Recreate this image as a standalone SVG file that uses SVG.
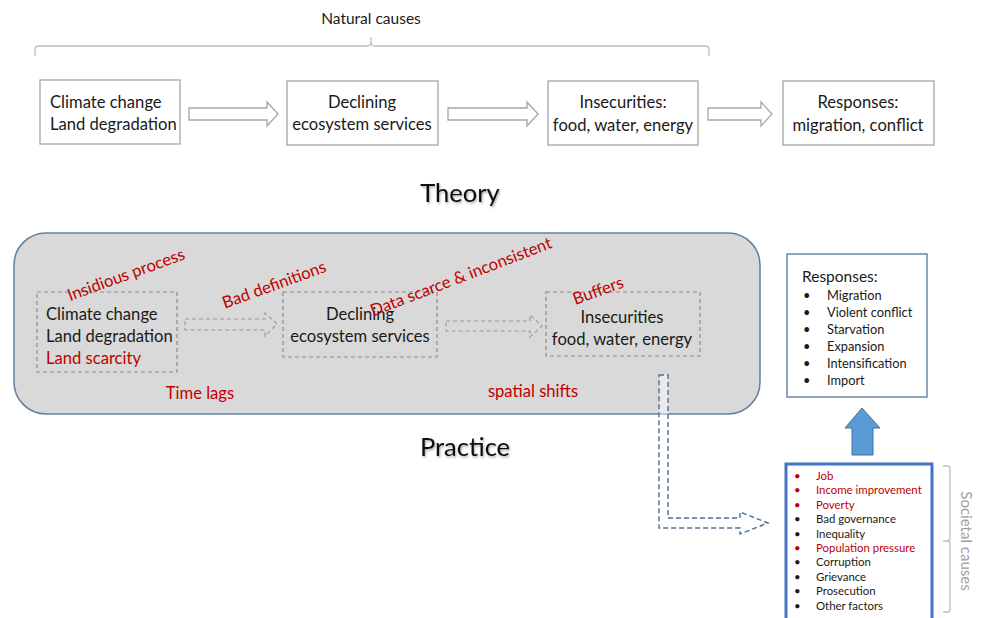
<svg xmlns="http://www.w3.org/2000/svg" width="982" height="618" viewBox="0 0 982 618">
<defs>
<style>
text{font-family:Lato,"Liberation Sans",sans-serif;fill:#1a1a1a}
.t{font-size:16.6px}
.c{text-anchor:middle}
.red{fill:#c00000}
.rl{font-size:16.6px;fill:#c00000;text-anchor:middle}
.box{fill:#fff;stroke:#a6a6a6;stroke-width:1.3}
.dbox{fill:none;stroke:#8c8c8c;stroke-width:1.2;stroke-dasharray:4 3}
.harrow{fill:#fff;stroke:#a6a6a6;stroke-width:1.3}
.darrow{fill:none;stroke:#9a9a9a;stroke-width:1.2;stroke-dasharray:4 3}
.brace{fill:none;stroke:#bfbfbf;stroke-width:1.3}
.sm{font-size:12.8px}
.xs{font-size:11.4px}
.head{font-size:25.5px;fill:#111}
</style>
<filter id="sh" x="-10%" y="-10%" width="130%" height="140%">
<feDropShadow dx="1" dy="1.5" stdDeviation="0.8" flood-color="#000" flood-opacity="0.35"/>
</filter>
</defs>

<g id="natural-causes">
<text x="371" y="24" class="c" style="font-size:15.5px">Natural causes</text>
<path class="brace" d="M35,56 L35,50 Q35,46 39,46 L367,46 Q371,46 371,42 L371,37 M371,42 Q371,46 375,46 L705,46 Q709,46 709,50 L709,56"/>
</g>

<g id="theory-label"><text x="460" y="202" class="c head" filter="url(#sh)">Theory</text></g>
<g id="practice-label"><text x="465" y="456" class="c head" filter="url(#sh)">Practice</text></g>

<g id="t-climate">
<rect class="box" x="40" y="80" width="140" height="64"/>
<text x="50" y="108" class="t">Climate change</text>
<text x="50" y="130" class="t">Land degradation</text>
</g>
<g id="t-declining">
<rect class="box" x="287" y="81" width="151" height="64"/>
<text x="362" y="108" class="t c">Declining</text>
<text x="362" y="130" class="t c">ecosystem services</text>
</g>
<g id="t-insecurities">
<rect class="box" x="548" y="81" width="150" height="64"/>
<text x="623" y="108" class="t c">Insecurities:</text>
<text x="623" y="131" class="t c">food, water, energy</text>
</g>
<g id="t-responses">
<rect class="box" x="783" y="81" width="151" height="64"/>
<text x="858" y="108" class="t c">Responses:</text>
<text x="858" y="131" class="t c">migration, conflict</text>
</g>

<g id="practice-area">
<rect x="14" y="233" width="746" height="181" rx="32" ry="32" fill="#d9d9d9" stroke="#6080a0" stroke-width="1.5"/>
</g>

<g id="connectors">
<path class="harrow" d="M189,108 L267,108 L267,102 L278,114 L267,126 L267,120 L189,120 Z"/>
<path class="harrow" d="M448,108 L527,108 L527,102 L538,114 L527,126 L527,120 L448,120 Z"/>
<path class="harrow" d="M708,108 L761,108 L761,102 L772,114 L761,126 L761,120 L708,120 Z"/>
<path class="darrow" d="M185,319 L265,319 L265,313 L277,324 L265,336 L265,330 L185,330 Z"/>
<path class="darrow" d="M446,321 L530,321 L530,315 L542,326 L530,337 L530,331 L446,331 Z"/>
<path d="M659,375 L668,375 L668,518 L740,518 L740,512 L768,523 L740,534 L740,528 L659,528 Z" fill="#ffffff" fill-opacity="0.45" stroke="#4f6f90" stroke-width="1.4" stroke-dasharray="5 3"/>
<path d="M862,408 L880,428 L873,428 L873,455 L852,455 L852,428 L845,428 Z" fill="#5b9bd5" stroke="#41719c" stroke-width="1"/>
</g>

<g id="p-climate">
<rect class="dbox" x="37" y="292" width="140" height="80"/>
<text x="46" y="320" class="t">Climate change</text>
<text x="46" y="342" class="t">Land degradation</text>
<text x="46" y="364" class="t red">Land scarcity</text>
</g>
<g id="p-declining">
<rect class="dbox" x="283" y="292" width="154" height="65"/>
<text x="360" y="320" class="t c">Declining</text>
<text x="360" y="342" class="t c">ecosystem services</text>
</g>
<g id="p-insecurities">
<rect class="dbox" x="546" y="292" width="154" height="64"/>
<text x="622" y="323" class="t c">Insecurities</text>
<text x="622" y="345" class="t c">food, water, energy</text>
</g>

<g id="red-labels">
<text class="rl" transform="translate(128,280) rotate(-20)">Insidious process</text>
<text class="rl" transform="translate(276,290) rotate(-20)">Bad definitions</text>
<text class="rl" transform="translate(463,282) rotate(-21)">Data  scarce &amp; inconsistent</text>
<text class="rl" transform="translate(600,296) rotate(-20)">Buffers</text>
<text class="rl" x="200" y="399">Time lags</text>
<text class="rl" x="533" y="397">spatial shifts</text>
</g>

<g id="responses">
<rect x="787" y="254" width="140" height="143" fill="#fff" stroke="#5f7f9f" stroke-width="1.4"/>
<text x="802" y="282" style="font-size:15.5px">Responses:</text>
<g class="sm">
<text x="803" y="300">•</text><text x="827" y="300">Migration</text>
<text x="803" y="317">•</text><text x="827" y="317">Violent conflict</text>
<text x="803" y="334">•</text><text x="827" y="334">Starvation</text>
<text x="803" y="351">•</text><text x="827" y="351">Expansion</text>
<text x="803" y="368">•</text><text x="827" y="368">Intensification</text>
<text x="803" y="385">•</text><text x="827" y="385">Import</text>
</g>
</g>

<g id="societal">
<rect x="786" y="464" width="146" height="156" fill="#fff" stroke="#4472c4" stroke-width="3"/>
<g class="xs">
<text x="794" y="480" class="red">•</text><text x="816" y="480" class="red">Job</text>
<text x="794" y="494" class="red">•</text><text x="816" y="494" class="red">Income improvement</text>
<text x="794" y="509" class="red">•</text><text x="816" y="509" class="red">Poverty</text>
<text x="794" y="523">•</text><text x="816" y="523">Bad governance</text>
<text x="794" y="538">•</text><text x="816" y="538">Inequality</text>
<text x="794" y="552" class="red">•</text><text x="816" y="552" class="red">Population pressure</text>
<text x="794" y="566">•</text><text x="816" y="566">Corruption</text>
<text x="794" y="581">•</text><text x="816" y="581">Grievance</text>
<text x="794" y="595">•</text><text x="816" y="595">Prosecution</text>
<text x="794" y="610">•</text><text x="816" y="610">Other factors</text>
</g>
<path class="brace" d="M943,466 L948,466 Q950,466 950,469 L950,538 Q950,541 947,541 L943,541 M947,541 Q950,541 950,544 L950,609 Q950,612 948,612 L943,612"/>
<text transform="translate(961,541) rotate(90)" class="c" style="font-size:15px;fill:#a0a0a0">Societal causes</text>
</g>
</svg>
